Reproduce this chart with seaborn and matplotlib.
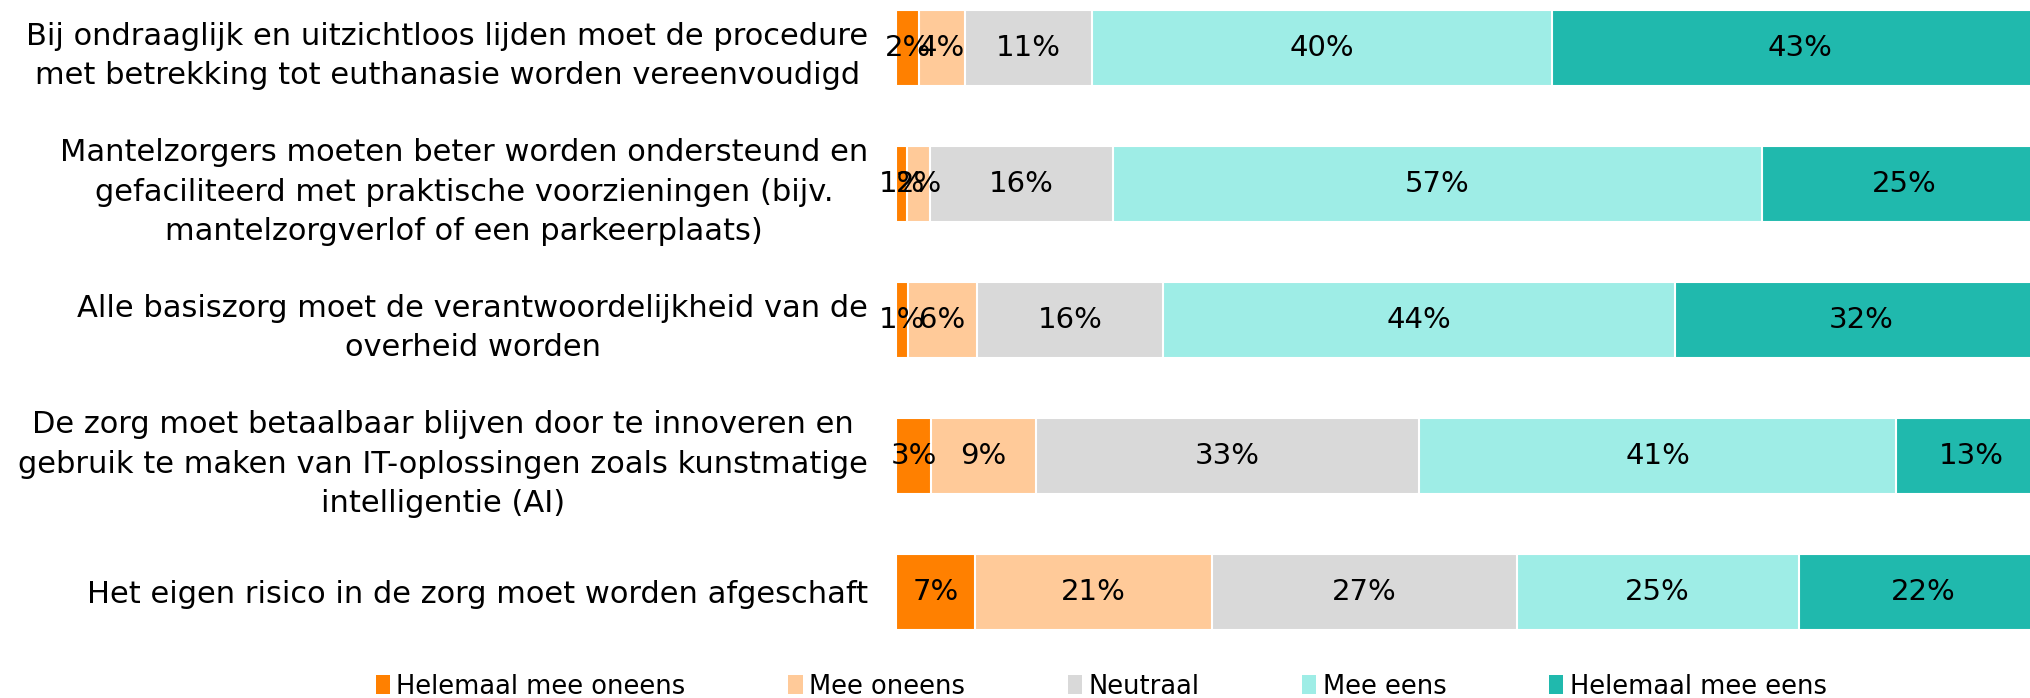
import numpy as np
import pandas as pd
import matplotlib
matplotlib.use("Agg")
import matplotlib.pyplot as plt
from matplotlib.patches import Patch
import seaborn as sns

# statements (top to bottom)
statements = [
    "Bij ondraaglijk en uitzichtloos lijden moet de procedure\nmet betrekking tot euthanasie worden vereenvoudigd",
    "Mantelzorgers moeten beter worden ondersteund en\ngefaciliteerd met praktische voorzieningen (bijv.\nmantelzorgverlof of een parkeerplaats)",
    "Alle basiszorg moet de verantwoordelijkheid van de\noverheid worden",
    "De zorg moet betaalbaar blijven door te innoveren en\ngebruik te maken van IT-oplossingen zoals kunstmatige\nintelligentie (AI)",
    "Het eigen risico in de zorg moet worden afgeschaft",
]
answers = ["Helemaal mee oneens", "Mee oneens", "Neutraal", "Mee eens", "Helemaal mee eens"]

helemaal_oneens = [2, 1, 1, 3, 7]
oneens = [4, 2, 6, 9, 21]
neutraal = [11, 16, 16, 33, 27]
eens = [40, 57, 44, 41, 25]
helemaal_eens = [43, 25, 32, 13, 22]

colors = ["#FF8000", "#FFCA99", "#D9D9D9", "#9EEDE6", "#20B9AD"]

df = pd.DataFrame({
    "statement": statements,
    answers[0]: helemaal_oneens,
    answers[1]: oneens,
    answers[2]: neutraal,
    answers[3]: eens,
    answers[4]: helemaal_eens,
})

# 100% stacked: normalise each row
vals = df[answers].to_numpy(dtype=float)
shares = vals / vals.sum(axis=1, keepdims=True) * 100
cum = np.cumsum(shares, axis=1)

fig = plt.figure(figsize=(20.30, 6.98), dpi=100)
ax = fig.add_axes([896 / 2030, 1 - 640 / 698, 1151 / 2030, 640 / 698])

# draw from the widest cumulative bar down so each segment stays visible
for i in range(len(answers) - 1, -1, -1):
    plot_df = pd.DataFrame({"statement": statements, "value": cum[:, i]})
    sns.barplot(data=plot_df, x="value", y="statement", orient="h",
                color=colors[i], width=0.56, edgecolor="white",
                linewidth=1.5, saturation=1, ax=ax)

# percentage labels in the middle of each segment
for r in range(len(statements)):
    start = 0
    for i in range(len(answers)):
        mid = start + shares[r, i] / 2
        ax.text(mid, r, f"{int(vals[r, i])}%", ha="center", va="center",
                fontsize=21, color="black")
        start = cum[r, i]

ax.set_xlim(0, 100)
ax.set_ylim(4.353, -0.353)
ax.set_xlabel("")
ax.set_ylabel("")
ax.set_xticks([])
ax.tick_params(axis="y", length=0, pad=20)
ax.set_yticklabels(statements, fontsize=22, multialignment="center", linespacing=1.45)
for s in ax.spines.values():
    s.set_visible(False)

handles = [Patch(facecolor=c, edgecolor="none") for c in colors]
fig.legend(handles, answers, loc="center", bbox_to_anchor=(0.5425, 0.016),
           ncol=5, frameon=False, fontsize=18.5, handlelength=0.55,
           handleheight=0.75, handletextpad=0.25, columnspacing=4.0)

fig.savefig("out.png", dpi=100)
